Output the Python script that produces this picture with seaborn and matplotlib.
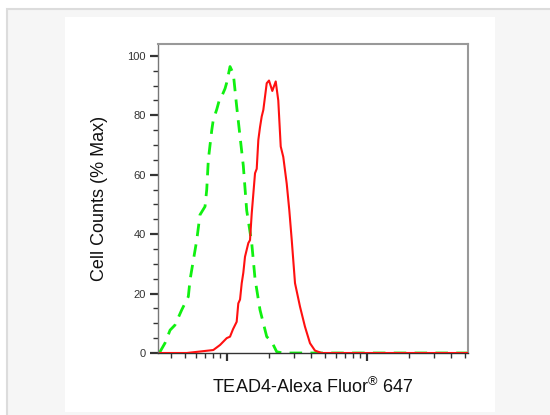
import numpy as np
import pandas as pd
import matplotlib
matplotlib.use('Agg')
import matplotlib.pyplot as plt
from matplotlib.patches import Rectangle
from matplotlib.ticker import FixedLocator, NullFormatter
import seaborn as sns

# isotype control (green, dashed) - fluorescence vs % max
iso_x = [330, 362, 394, 427, 477, 532, 547, 611, 644, 700, 720, 739, 782, 802,
         849, 896, 933, 973, 1000, 1056, 1115, 1178, 1314, 1389, 1509, 1593,
         1729, 1931, 2096, 2276, 2523, 55000]
iso_y = [0, 3.3, 7.7, 9.4, 14.5, 19, 24.6, 38, 46.5, 49.3, 55, 65, 75, 78.5,
         82, 86, 87, 89, 91, 96.4, 94, 83, 63, 48, 37, 25,
         14.5, 5.5, 3.8, 0.4, 0, 0]

# TEAD4 stained sample (red, solid)
tead_x = [334, 518, 645, 802, 896, 1000, 1056, 1109, 1178, 1210, 1245, 1280,
          1314, 1351, 1427, 1467, 1509, 1593, 1638, 1682, 1729, 1778, 1826,
          1931, 2005, 2117, 2239, 2335, 2431, 2535, 2683, 2800, 2914, 3075,
          3338, 3620, 3934, 4271, 4770, 55000]
tead_y = [0, 0, 0.5, 1, 2.7, 5, 5.5, 8, 10.5, 16.7, 18, 23.5,
          27, 32.4, 37, 38, 47, 60.5, 62, 71.7, 76, 79.6, 81.8,
          90.8, 91.7, 88.2, 91.4, 85, 69.5, 66, 57, 48, 38, 23.5,
          15.6, 8.9, 3.3, 0.8, 0, 0]

x_label = 'TEAD4-Alexa Fluor$^{\u00ae}$ 647'
y_label = 'Cell Counts (% Max)'

sns.set_theme(style='ticks')
plt.rcParams['font.family'] = ['Liberation Sans', 'DejaVu Sans']
plt.rcParams['mathtext.fontset'] = 'custom'
plt.rcParams['mathtext.rm'] = 'Liberation Sans'
plt.rcParams['mathtext.it'] = 'Liberation Sans'
plt.rcParams['mathtext.default'] = 'rm'

fig = plt.figure(figsize=(5.5, 4.15), dpi=100)
fig.patch.set_facecolor('white')

# page background: light grey frame and white panel
fig.patches.append(Rectangle((7 / 550, -0.1), 1, 1.1 - 9 / 415, transform=fig.transFigure,
                             facecolor='#f6f6f6', edgecolor='#dcdcdc', linewidth=1.5, zorder=-2))
fig.patches.append(Rectangle((65 / 550, 3 / 415), 430 / 550, 395 / 415, transform=fig.transFigure,
                             facecolor='white', edgecolor='none', zorder=-1))

ax = fig.add_axes([158 / 550, 62 / 415, 310 / 550, 309 / 415])
ax.set_facecolor('white')

df_iso = pd.DataFrame({'x': iso_x, 'y': iso_y})
df_tead = pd.DataFrame({'x': tead_x, 'y': tead_y})

sns.lineplot(data=df_tead, x='x', y='y', ax=ax, color='#ff1010', linewidth=1.5, zorder=3)
sns.lineplot(data=df_iso, x='x', y='y', ax=ax, color='#10f010', linewidth=2.0,
             linestyle=(0, (4.5, 3)), zorder=2)

ax.set_xscale('log')
ax.set_xlim(323, 52900)
ax.set_ylim(0, 104)

# x ticks: decades major, others minor, no labels
major_x = [1000, 10000]
minor_x = [v * d for d in (100, 1000, 10000) for v in range(2, 10)]
ax.xaxis.set_major_locator(FixedLocator(major_x))
ax.xaxis.set_minor_locator(FixedLocator(minor_x))
ax.xaxis.set_major_formatter(NullFormatter())
ax.xaxis.set_minor_formatter(NullFormatter())

ax.set_yticks([0, 20, 40, 60, 80, 100])
ax.set_yticks(np.arange(0, 104, 5), minor=True)

ax.tick_params(axis='both', which='major', direction='out', length=6, width=1.6,
               color='#333333', labelsize=8, labelcolor='#333333', pad=3)
ax.tick_params(axis='both', which='minor', direction='out', length=3.5, width=1.0,
               color='#333333')

for side in ['top', 'right']:
    ax.spines[side].set_color('#999999')
    ax.spines[side].set_linewidth(1.5)
ax.spines['left'].set_color('#777777')
ax.spines['left'].set_linewidth(1.0)
ax.spines['bottom'].set_color('#333333')
ax.spines['bottom'].set_linewidth(1.0)

ax.set_xlabel(x_label, fontsize=13, color='#111111', labelpad=8)
ax.set_ylabel(y_label, fontsize=13, color='#111111', labelpad=14)

fig.savefig('out.png', dpi=100, facecolor=fig.get_facecolor())
